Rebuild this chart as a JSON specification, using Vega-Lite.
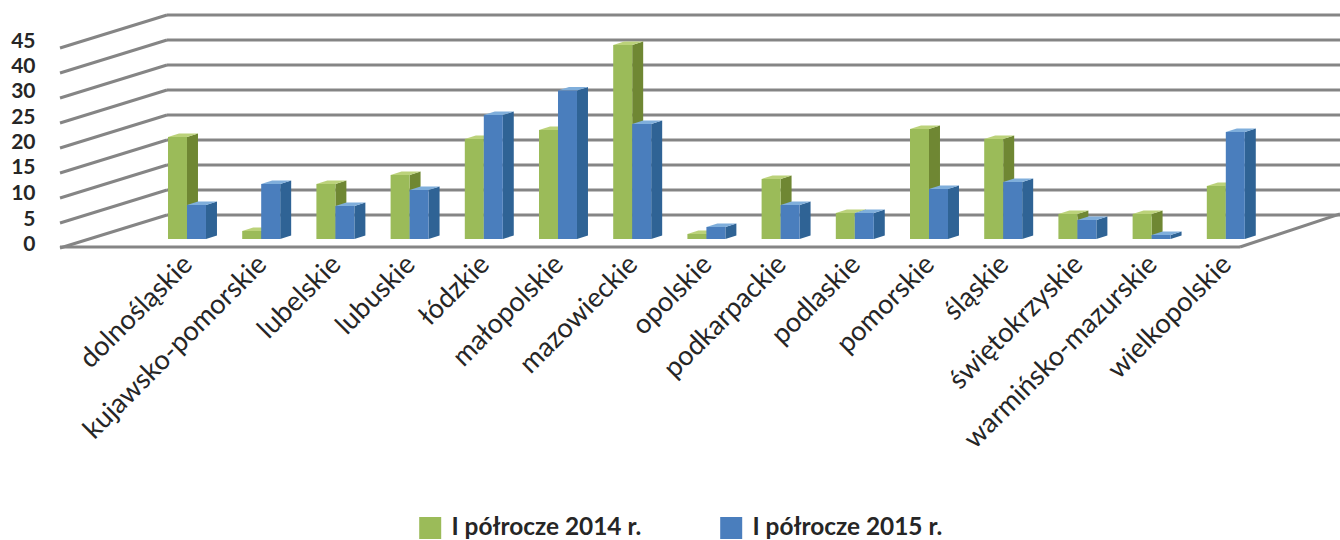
{
"$schema":"https://vega.github.io/schema/vega-lite/v6.json",
"width":1302,"height":250,
"autosize":{"type":"none"},
"padding":{"left":38,"top":0,"right":0,"bottom":290},
"background":"white",
"config":{"view":{"stroke":null},"font":"Lato"},
"datasets":{
"levels":[{"level":0},{"level":5},{"level":10},{"level":15},{"level":20},{"level":25},{"level":30},{"level":35},{"level":40}],
"ticks":[{"v":0},{"v":5},{"v":10},{"v":15},{"v":20},{"v":25},{"v":30},{"v":40},{"v":45}],
"edge":[{"edge":"floor"}]
},
"data":{"values":[
{"region":"dolnośląskie","series":"I półrocze 2014 r.","value":20.4},
{"region":"kujawsko-pomorskie","series":"I półrocze 2014 r.","value":1.6},
{"region":"lubelskie","series":"I półrocze 2014 r.","value":11},
{"region":"lubuskie","series":"I półrocze 2014 r.","value":12.8},
{"region":"łódzkie","series":"I półrocze 2014 r.","value":20},
{"region":"małopolskie","series":"I półrocze 2014 r.","value":21.8},
{"region":"mazowieckie","series":"I półrocze 2014 r.","value":43.8},
{"region":"opolskie","series":"I półrocze 2014 r.","value":1},
{"region":"podkarpackie","series":"I półrocze 2014 r.","value":12},
{"region":"podlaskie","series":"I półrocze 2014 r.","value":5.2},
{"region":"pomorskie","series":"I półrocze 2014 r.","value":22},
{"region":"śląskie","series":"I półrocze 2014 r.","value":20},
{"region":"świętokrzyskie","series":"I półrocze 2014 r.","value":5},
{"region":"warmińsko-mazurskie","series":"I półrocze 2014 r.","value":5},
{"region":"wielkopolskie","series":"I półrocze 2014 r.","value":10.6},
{"region":"dolnośląskie","series":"I półrocze 2015 r.","value":6.8},
{"region":"kujawsko-pomorskie","series":"I półrocze 2015 r.","value":11},
{"region":"lubelskie","series":"I półrocze 2015 r.","value":6.6},
{"region":"lubuskie","series":"I półrocze 2015 r.","value":9.8},
{"region":"łódzkie","series":"I półrocze 2015 r.","value":24.8},
{"region":"małopolskie","series":"I półrocze 2015 r.","value":29.7},
{"region":"mazowieckie","series":"I półrocze 2015 r.","value":23},
{"region":"opolskie","series":"I półrocze 2015 r.","value":2.4},
{"region":"podkarpackie","series":"I półrocze 2015 r.","value":6.8},
{"region":"podlaskie","series":"I półrocze 2015 r.","value":5.2},
{"region":"pomorskie","series":"I półrocze 2015 r.","value":10},
{"region":"śląskie","series":"I półrocze 2015 r.","value":11.4},
{"region":"świętokrzyskie","series":"I półrocze 2015 r.","value":3.8},
{"region":"warmińsko-mazurskie","series":"I półrocze 2015 r.","value":0.8},
{"region":"wielkopolskie","series":"I półrocze 2015 r.","value":21.4}
]},
"transform":[
{"window":[{"op":"row_number","as":"n"}],"groupby":["series"]},
{"calculate":"datum.series=='I półrocze 2014 r.'?0:1","as":"s"},
{"calculate":"datum.n-1+datum.s*0.256","as":"x0"},
{"calculate":"datum.x0+0.256","as":"x1"},
{"calculate":"datum.value<=30?datum.value:(datum.value<=40?30+(datum.value-30)/2:35+(datum.value-40))","as":"pos"}
],
"layer":[
{"data":{"name":"levels"},"transform":[{"calculate":"datum.level+4.8","as":"back"}],
 "mark":{"type":"rule","color":"#858585","strokeWidth":3},
 "encoding":{
  "x":{"datum":-0.0135,"type":"quantitative","scale":{"domain":[-1.752,15.795],"nice":false,"zero":false},"axis":null},
  "x2":{"datum":15.795},
  "y":{"field":"back","type":"quantitative","scale":{"domain":[-2.2,47.8],"nice":false,"zero":false},"axis":null}
 }},
{"data":{"name":"levels"},"transform":[{"calculate":"datum.level+4.8","as":"back"},{"calculate":"datum.level-1.8","as":"front"}],
 "mark":{"type":"rule","color":"#858585","strokeWidth":3},
 "encoding":{
  "x":{"datum":-1.4555,"type":"quantitative","scale":{"domain":[-1.752,15.795],"nice":false,"zero":false},"axis":null},
  "x2":{"datum":-0.0135},
  "y":{"field":"front","type":"quantitative","scale":{"domain":[-2.2,47.8],"nice":false,"zero":false},"axis":null},
  "y2":{"field":"back"}
 }},
{"data":{"name":"edge"},
 "mark":{"type":"rule","color":"#858585","strokeWidth":3},
 "encoding":{
  "x":{"datum":-1.4555,"type":"quantitative","scale":{"domain":[-1.752,15.795],"nice":false,"zero":false},"axis":null},
  "x2":{"datum":14.447},
  "y":{"datum":-1.6,"type":"quantitative","scale":{"domain":[-2.2,47.8],"nice":false,"zero":false},"axis":null}
 }},
{"data":{"name":"edge"},
 "mark":{"type":"rule","color":"#858585","strokeWidth":3},
 "encoding":{
  "x":{"datum":14.447,"type":"quantitative","scale":{"domain":[-1.752,15.795],"nice":false,"zero":false},"axis":null},
  "x2":{"datum":15.795},
  "y":{"datum":-1.6,"type":"quantitative","scale":{"domain":[-2.2,47.8],"nice":false,"zero":false},"axis":null},
  "y2":{"datum":5}
 }},
{"transform":[{"filter":"datum.s==0"},{"calculate":"[0,1]","as":"a"},{"flatten":["a"]},{"calculate":"datum.x1+datum.a*0.148","as":"xs"},{"calculate":"datum.pos+datum.a*0.7","as":"yt"},{"calculate":"datum.a*0.7","as":"yb"}],
 "mark":{"type":"area","color":"#6F8733","opacity":1},
 "encoding":{
  "x":{"field":"xs","type":"quantitative","scale":{"domain":[-1.752,15.795],"nice":false,"zero":false},"axis":null},
  "y":{"field":"yt","type":"quantitative","scale":{"domain":[-2.2,47.8],"nice":false,"zero":false},"axis":null},
  "y2":{"field":"yb"},
  "detail":{"field":"region"}
 }},
{"transform":[{"filter":"datum.s==0"},{"calculate":"[0,1]","as":"a"},{"flatten":["a"]},{"calculate":"datum.x0+datum.a*0.148","as":"xl"},{"calculate":"datum.x1+datum.a*0.148","as":"xr"},{"calculate":"datum.pos+datum.a*0.7","as":"yt"}],
 "mark":{"type":"area","orient":"horizontal","color":"#BBD27A","opacity":1},
 "encoding":{
  "y":{"field":"yt","type":"quantitative","scale":{"domain":[-2.2,47.8],"nice":false,"zero":false},"axis":null},
  "x":{"field":"xl","type":"quantitative","scale":{"domain":[-1.752,15.795],"nice":false,"zero":false},"axis":null},
  "x2":{"field":"xr"},
  "detail":{"field":"region"}
 }},
{"transform":[{"filter":"datum.s==1"},{"calculate":"[0,1]","as":"a"},{"flatten":["a"]},{"calculate":"datum.x1+datum.a*0.148","as":"xs"},{"calculate":"datum.pos+datum.a*0.7","as":"yt"},{"calculate":"datum.a*0.7","as":"yb"}],
 "mark":{"type":"area","color":"#2F6395","opacity":1},
 "encoding":{
  "x":{"field":"xs","type":"quantitative","scale":{"domain":[-1.752,15.795],"nice":false,"zero":false},"axis":null},
  "y":{"field":"yt","type":"quantitative","scale":{"domain":[-2.2,47.8],"nice":false,"zero":false},"axis":null},
  "y2":{"field":"yb"},
  "detail":{"field":"region"}
 }},
{"transform":[{"filter":"datum.s==1"},{"calculate":"[0,1]","as":"a"},{"flatten":["a"]},{"calculate":"datum.x0+datum.a*0.148","as":"xl"},{"calculate":"datum.x1+datum.a*0.148","as":"xr"},{"calculate":"datum.pos+datum.a*0.7","as":"yt"}],
 "mark":{"type":"area","orient":"horizontal","color":"#7FAEDB","opacity":1},
 "encoding":{
  "y":{"field":"yt","type":"quantitative","scale":{"domain":[-2.2,47.8],"nice":false,"zero":false},"axis":null},
  "x":{"field":"xl","type":"quantitative","scale":{"domain":[-1.752,15.795],"nice":false,"zero":false},"axis":null},
  "x2":{"field":"xr"},
  "detail":{"field":"region"}
 }},
{"mark":{"type":"rect"},
 "encoding":{
  "x":{"field":"x0","type":"quantitative","scale":{"domain":[-1.752,15.795],"nice":false,"zero":false},"axis":null},
  "x2":{"field":"x1"},
  "y":{"field":"pos","type":"quantitative","scale":{"domain":[-2.2,47.8],"nice":false,"zero":false},"axis":null},
  "y2":{"datum":0},
  "color":{"field":"series","type":"nominal","scale":{"domain":["I półrocze 2014 r.","I półrocze 2015 r."],"range":["#9BBB59","#4A7EBD"]},
   "legend":{"title":null,"orient":"none","legendX":380,"legendY":516,"direction":"horizontal","columns":2,"padding":0,"symbolType":"square","symbolSize":484,"symbolStrokeWidth":0,"symbolOpacity":1,"labelFont":"Lato","labelFontWeight":"bold","labelFontSize":24.4,"labelColor":"#262626","labelOffset":9,"columnPadding":77,"labelLimit":400,"clipHeight":24}}
 }},
{"mark":{"type":"point","opacity":0},
 "encoding":{
  "x":{"field":"region","type":"nominal","sort":null,"scale":{"type":"point","padding":0,"range":[140,1178.8]},"axis":{"title":null,"orient":"bottom","labelAngle":-45,"labelFont":"Lato","labelFontSize":27.3,"labelColor":"#262626","domain":false,"ticks":false,"labelPadding":0,"labelLimit":500,"labelOverlap":false,"labelBound":false,"labelFlush":false}}
 }},
{"data":{"name":"ticks"},"mark":{"type":"point","opacity":0},
 "encoding":{
  "y":{"field":"v","type":"quantitative","scale":{"domain":[0,5,10,15,20,25,30,40,45],"range":[244.5,219,193,167.5,142.5,117,91.5,66,41.5]},"axis":{"title":null,"orient":"left","values":[0,5,10,15,20,25,30,40,45],"grid":false,"domain":false,"ticks":false,"labelPadding":3,"labelFont":"Lato","labelFontWeight":"bold","labelFontSize":21,"labelColor":"#262626","labelOverlap":false,"labelBound":false,"labelFlush":false}}
 }}
],
"resolve":{"scale":{"x":"independent","y":"independent"}}
}
